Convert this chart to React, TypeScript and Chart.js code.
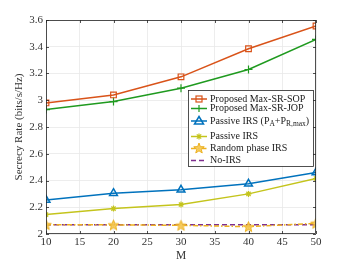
import React, { useEffect, useRef } from "react";
import { Chart, registerables } from "chart.js";
Chart.register(...registerables);

const M = [10, 20, 30, 40, 50];
const sop = [2.98, 3.04, 3.175, 3.385, 3.555];
const jop = [2.93, 2.99, 3.09, 3.23, 3.455];
const passiveMax = [2.255, 2.305, 2.33, 2.375, 2.46];
const passive = [2.145, 2.19, 2.22, 2.3, 2.415];
const randomPhase = [2.07, 2.068, 2.065, 2.055, 2.08];
const noIrs = [2.07, 2.07, 2.07, 2.07, 2.07];

const FONT = "'Liberation Serif', 'Times New Roman', serif";
const C_SOP = "#D95319";
const C_JOP = "#1F9A1F";
const C_PMAX = "#0072BD";
const C_P = "#C4C41C";
const C_RND = "#EDB120";
const C_NO = "#7E2F8E";

function starPath(ctx: CanvasRenderingContext2D, cx: number, cy: number, r: number) {
  const ri = r * 0.42;
  ctx.beginPath();
  for (let i = 0; i < 10; i++) {
    const rr = i % 2 === 0 ? r : ri;
    const a = -Math.PI / 2 + (i * Math.PI) / 5;
    const x = cx + rr * Math.cos(a);
    const y = cy + rr * Math.sin(a);
    if (i === 0) ctx.moveTo(x, y);
    else ctx.lineTo(x, y);
  }
  ctx.closePath();
}

function makeStarCanvas(color: string, r: number) {
  const c = document.createElement("canvas");
  const s = Math.ceil(r * 2 + 2);
  c.width = s;
  c.height = s;
  const ctx = c.getContext("2d")!;
  starPath(ctx, s / 2, s / 2 + 0.5, r);
  ctx.fillStyle = "rgba(245,200,80,0.9)";
  ctx.fill();
  ctx.strokeStyle = color;
  ctx.lineWidth = 1;
  ctx.stroke();
  return c;
}

function drawMarker(ctx: CanvasRenderingContext2D, style: string, x: number, y: number, color: string) {
  ctx.save();
  ctx.strokeStyle = color;
  ctx.lineWidth = 1.2;
  ctx.setLineDash([]);
  if (style === "rect") {
    ctx.strokeRect(x - 3, y - 3, 6, 6);
  } else if (style === "cross") {
    ctx.beginPath();
    ctx.moveTo(x - 3.5, y);
    ctx.lineTo(x + 3.5, y);
    ctx.moveTo(x, y - 3.5);
    ctx.lineTo(x, y + 3.5);
    ctx.stroke();
  } else if (style === "triangle") {
    ctx.lineWidth = 1.5;
    ctx.beginPath();
    ctx.moveTo(x, y - 4.5);
    ctx.lineTo(x + 4.5, y + 3);
    ctx.lineTo(x - 4.5, y + 3);
    ctx.closePath();
    ctx.stroke();
  } else if (style === "star") {
    ctx.beginPath();
    ctx.moveTo(x - 3, y);
    ctx.lineTo(x + 3, y);
    ctx.moveTo(x, y - 3);
    ctx.lineTo(x, y + 3);
    ctx.moveTo(x - 2.2, y - 2.2);
    ctx.lineTo(x + 2.2, y + 2.2);
    ctx.moveTo(x - 2.2, y + 2.2);
    ctx.lineTo(x + 2.2, y - 2.2);
    ctx.stroke();
  } else if (style === "pent") {
    starPath(ctx, x, y, 5.5);
    ctx.fillStyle = "rgba(245,200,80,0.9)";
    ctx.fill();
    ctx.lineWidth = 1;
    ctx.stroke();
  }
  ctx.restore();
}

const legendItems = [
  { label: "Proposed Max-SR-SOP", color: C_SOP, dash: [] as number[], marker: "rect" },
  { label: "Proposed Max-SR-JOP", color: C_JOP, dash: [], marker: "cross" },
  { label: "PMAX", color: C_PMAX, dash: [], marker: "triangle" },
  { label: "Passive IRS", color: C_P, dash: [], marker: "star" },
  { label: "Random phase IRS", color: C_RND, dash: [5, 2, 1.5, 2], marker: "pent" },
  { label: "No-IRS", color: C_NO, dash: [5, 3], marker: "" },
];

const framePlugin = {
  id: "frameLegend",
  afterDraw(chart: any) {
    const ctx: CanvasRenderingContext2D = chart.ctx;
    const a = chart.chartArea;
    const xs = chart.scales.x;
    const ys = chart.scales.y;
    ctx.save();
    ctx.strokeStyle = "#262626";
    ctx.lineWidth = 0.8;
    ctx.strokeRect(a.left + 0.5, a.top + 0.5, a.right - a.left - 1, a.bottom - a.top - 1);
    ctx.beginPath();
    xs.ticks.forEach((t: any) => {
      const px = Math.round(xs.getPixelForValue(t.value)) + 0.5;
      ctx.moveTo(px, a.bottom);
      ctx.lineTo(px, a.bottom - 3);
      ctx.moveTo(px, a.top);
      ctx.lineTo(px, a.top + 3);
    });
    ys.ticks.forEach((t: any) => {
      const py = Math.round(ys.getPixelForValue(t.value)) + 0.5;
      ctx.moveTo(a.left, py);
      ctx.lineTo(a.left + 3, py);
      ctx.moveTo(a.right, py);
      ctx.lineTo(a.right - 3, py);
    });
    ctx.stroke();

    const bx = 188, by = 90, bw = 125, bh = 76;
    ctx.fillStyle = "#ffffff";
    ctx.fillRect(bx, by, bw, bh);
    ctx.strokeStyle = "#262626";
    ctx.lineWidth = 0.8;
    ctx.strokeRect(bx + 0.5, by + 0.5, bw, bh);
    const rows = [99, 108.5, 121, 136.5, 148.5, 160.5];
    ctx.textBaseline = "middle";
    legendItems.forEach((it, i) => {
      const y = rows[i];
      ctx.save();
      ctx.strokeStyle = it.color;
      ctx.lineWidth = 1.5;
      ctx.setLineDash(it.dash);
      ctx.beginPath();
      ctx.moveTo(191, y);
      ctx.lineTo(207, y);
      ctx.stroke();
      ctx.restore();
      if (it.marker) drawMarker(ctx, it.marker, 199, y, it.color);
      ctx.fillStyle = "#1a1a1a";
      ctx.font = `10px ${FONT}`;
      const tx = 210;
      if (it.label === "PMAX") {
        let x = tx;
        const parts: [string, boolean][] = [
          ["Passive IRS (P", false],
          ["A", true],
          ["+P", false],
          ["R,max", true],
          [")", false],
        ];
        parts.forEach(([s, sub]) => {
          ctx.font = sub ? `7.5px ${FONT}` : `10px ${FONT}`;
          ctx.fillText(s, x, sub ? y + 3.5 : y);
          x += ctx.measureText(s).width;
        });
      } else {
        ctx.fillText(it.label, tx, y);
      }
    });
    ctx.restore();
  },
};

export default function App() {
  const ref = useRef<HTMLCanvasElement | null>(null);
  useEffect(() => {
    const starImg = makeStarCanvas(C_RND, 5.5);
    const mk = (d: number[]) => d.map((v, i) => ({ x: M[i], y: v }));
    const chart = new Chart(ref.current!, {
      type: "line",
      data: {
        datasets: [
          {
            data: mk(sop),
            borderColor: C_SOP,
            borderWidth: 1.5,
            pointStyle: "rect",
            pointRadius: 4,
            pointBorderWidth: 1.2,
            pointBackgroundColor: "rgba(255,255,255,0)",
            pointBorderColor: C_SOP,
          },
          {
            data: mk(jop),
            borderColor: C_JOP,
            borderWidth: 1.5,
            pointStyle: "cross",
            pointRadius: 4,
            pointBorderWidth: 1.2,
            pointBorderColor: C_JOP,
          },
          {
            data: mk(passiveMax),
            borderColor: C_PMAX,
            borderWidth: 1.5,
            pointStyle: "triangle",
            pointRadius: 4.5,
            pointBorderWidth: 1.5,
            pointBackgroundColor: "rgba(255,255,255,0)",
            pointBorderColor: C_PMAX,
          },
          {
            data: mk(passive),
            borderColor: C_P,
            borderWidth: 1.5,
            pointStyle: "star",
            pointRadius: 3,
            pointBorderWidth: 1.2,
            pointBorderColor: C_P,
          },
          {
            data: mk(randomPhase),
            borderColor: C_RND,
            borderWidth: 1.5,
            borderDash: [5, 2, 1.5, 2],
            pointStyle: starImg as any,
            pointRadius: 5,
          },
          {
            data: mk(noIrs),
            borderColor: C_NO,
            borderWidth: 1.5,
            borderDash: [5, 3],
            pointRadius: 0,
          },
        ],
      },
      options: {
        animation: false,
        responsive: false,
        devicePixelRatio: 1,
        layout: { padding: { top: 20, right: 34, left: 13, bottom: 0 } },
        plugins: { legend: { display: false }, tooltip: { enabled: false } },
        elements: { line: { tension: 0 } },
        scales: {
          x: {
            type: "linear",
            min: 10,
            max: 50,
            ticks: { stepSize: 5, color: "#333", font: { family: FONT, size: 11 }, padding: 2, maxRotation: 0 },
            grid: { color: "#e8e8e8", drawTicks: false, lineWidth: 0.8 },
            border: { display: false },
            title: { display: true, text: "M", color: "#333", font: { family: FONT, size: 11.5 }, padding: { top: 2, bottom: 0 } },
            afterFit: (s: any) => { s.height = 29; },
          },
          y: {
            type: "linear",
            min: 2,
            max: 3.6,
            ticks: {
              stepSize: 0.2,
              color: "#333",
              font: { family: FONT, size: 11 },
              padding: 3,
              callback: (v: any) => String(Number(Number(v).toFixed(1))),
            },
            grid: { color: "#e8e8e8", drawTicks: false, lineWidth: 0.8 },
            border: { display: false },
            title: { display: true, text: "Secrecy Rate (bits/s/Hz)", color: "#333", font: { family: FONT, size: 11 }, padding: { top: 0, bottom: 0 } },
            afterFit: (s: any) => { s.width = 33; },
          },
        },
      } as any,
      plugins: [framePlugin],
    });
    return () => chart.destroy();
  }, []);
  return (
    <div style={{ position: "fixed", left: 0, top: 0, width: 350, height: 263, background: "#fff" }}>
      <canvas ref={ref} width={350} height={263} style={{ width: 350, height: 263, display: "block" }} />
    </div>
  );
}
